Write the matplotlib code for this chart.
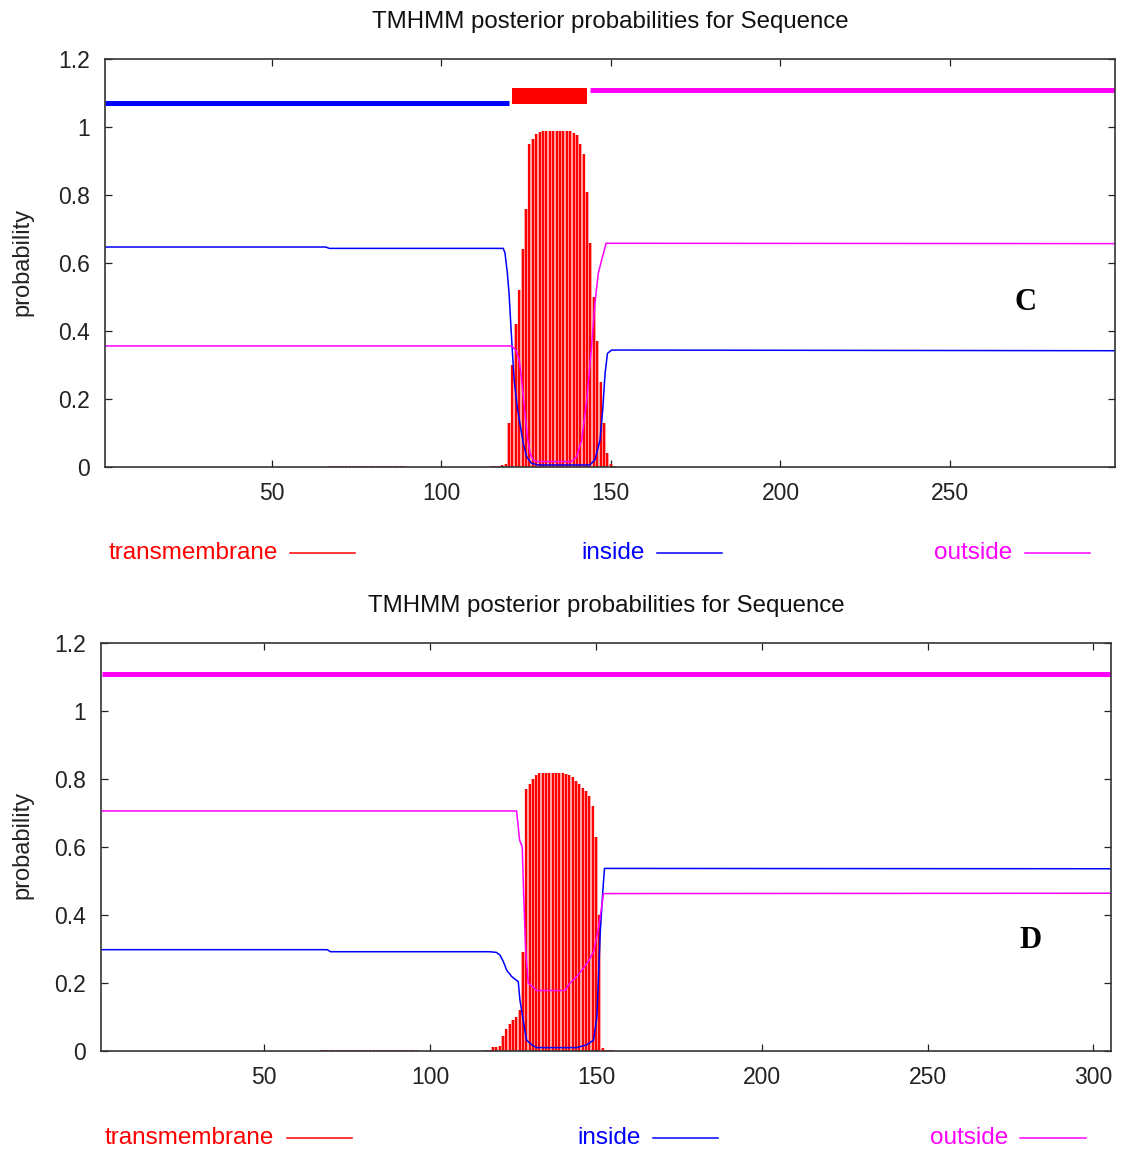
import matplotlib
matplotlib.use("Agg")
import matplotlib.pyplot as plt
from matplotlib.lines import Line2D

plt.rcParams['font.family'] = ['Liberation Sans', 'DejaVu Sans']

TITLE = "TMHMM posterior probabilities for Sequence"
y_ticks = [0, 0.2, 0.4, 0.6, 0.8, 1.0, 1.2]
y_ticklabels = ["0", "0.2", "0.4", "0.6", "0.8", "1", "1.2"]

# ---- panel C ----
c_xrange = (0.9, 298.6)
c_xticks = [50, 100, 150, 200, 250]
# topology bar: (start, end, level, kind)
c_topology = [(1, 120, 1.07, "inside"), (121, 143, 1.09, "tm"), (144, 298.6, 1.11, "outside")]

c_tm_low_res = list(range(67, 90))
c_tm_low = [0.004] * len(c_tm_low_res)
c_tm_res = list(range(115, 152))
c_tm = [0.003, 0.003, 0.004, 0.005, 0.01, 0.13, 0.30, 0.42, 0.52, 0.64,
        0.76, 0.95, 0.965, 0.978, 0.984, 0.988, 0.988, 0.988, 0.988, 0.988,
        0.988, 0.988, 0.988, 0.988, 0.983, 0.976, 0.95, 0.92, 0.81, 0.66,
        0.50, 0.37, 0.25, 0.13, 0.04, 0.01, 0.003]

c_in_x = [1, 66, 67, 118.3, 118.8, 119.5, 120, 120.5, 121, 121.5, 122.4, 123.2,
          124.2, 125.2, 126.6, 128.6, 143.8, 145.3, 146.8, 147.6, 148.3, 149,
          150.2, 298.6]
c_in_y = [0.647, 0.647, 0.643, 0.643, 0.629, 0.57, 0.51, 0.422, 0.335, 0.256,
          0.177, 0.128, 0.069, 0.030, 0.011, 0.006, 0.006, 0.021, 0.079, 0.168,
          0.275, 0.334, 0.344, 0.342]
c_out_x = [1, 120.7, 122, 123, 123.7, 124.7, 125.4, 126.2, 127.1, 128.1, 138.4,
           139.9, 141.4, 142.9, 144.3, 145.3, 146.3, 147.3, 148.6, 298.6]
c_out_y = [0.356, 0.356, 0.344, 0.315, 0.256, 0.158, 0.089, 0.040, 0.021, 0.016,
           0.016, 0.030, 0.079, 0.197, 0.354, 0.481, 0.57, 0.609, 0.658, 0.657]

# ---- panel D ----
d_xrange = (0.8, 305.3)
d_xticks = [50, 100, 150, 200, 250, 300]
d_topology = [(1, 305.3, 1.11, "outside")]

d_tm_low_res = list(range(67, 97))
d_tm_low = [0.004] * len(d_tm_low_res)
d_tm_res = list(range(117, 156))
d_tm = [0.003, 0.004, 0.012, 0.013, 0.014, 0.045, 0.065, 0.08, 0.09, 0.10,
        0.12, 0.29, 0.77, 0.785, 0.80, 0.812, 0.818, 0.818, 0.818, 0.818,
        0.818, 0.818, 0.818, 0.818, 0.815, 0.812, 0.805, 0.795, 0.785, 0.775,
        0.765, 0.75, 0.72, 0.63, 0.40, 0.008, 0.004, 0.004, 0.003]

d_in_x = [1, 69, 70, 118, 120, 121.1, 122.1, 123.1, 124.6, 126.6, 127.1, 128.1,
          129.1, 130.7, 132.2, 144.2, 147.2, 149.3, 150.3, 151.3, 152.1, 152.6,
          305.3]
d_in_y = [0.298, 0.298, 0.292, 0.292, 0.29, 0.282, 0.263, 0.238, 0.219, 0.204,
          0.15, 0.09, 0.032, 0.018, 0.010, 0.010, 0.018, 0.032, 0.10, 0.346,
          0.473, 0.537, 0.536]
d_out_x = [1, 126.1, 127, 127.8, 128.2, 128.8, 129.6, 132.2, 140.7, 142.2, 144.2,
           146.2, 147.7, 149.3, 150.3, 151.3, 152.3, 305.3]
d_out_y = [0.706, 0.706, 0.62, 0.60, 0.47, 0.30, 0.20, 0.178, 0.178, 0.20, 0.219,
           0.243, 0.263, 0.292, 0.336, 0.395, 0.463, 0.464]

COL = {"tm": "#ff0000", "inside": "#0000ff", "outside": "#ff00ff"}
TOPO_LW = {"tm": 11.5, "inside": 3.6, "outside": 3.6}

W, H = 1121, 1151
fig = plt.figure(figsize=(W / 100, H / 100), dpi=100)


def fx(px):
    return px / W


def fy(py):
    return 1 - py / H


def panel(rect, xrange_, xticks, topo, tm_low_res, tm_low, tm_res, tm,
          in_x, in_y, out_x, out_y):
    ax = fig.add_axes(rect)
    # impulses: pale fill between the red strokes, like the gnuplot raster
    ax.bar(tm_res, tm, width=1.0, color="#ffb4b4", linewidth=0)
    ax.vlines(tm_low_res, 0, tm_low, color=COL["tm"], lw=1.6)
    ax.vlines(tm_res, 0, tm, color=COL["tm"], lw=1.6)
    ax.plot(in_x, in_y, color=COL["inside"], lw=1.1)
    ax.plot(out_x, out_y, color=COL["outside"], lw=1.1)
    for x0, x1, lev, kind in topo:
        ax.plot([x0, x1], [lev, lev], color=COL[kind], lw=TOPO_LW[kind],
                solid_capstyle="butt")
    ax.set_xlim(*xrange_)
    ax.set_ylim(0, 1.2)
    ax.set_xticks(xticks)
    ax.set_yticks(y_ticks)
    ax.set_yticklabels(y_ticklabels)
    ax.tick_params(direction="in", length=5, width=0.9, top=True, right=True,
                   labelsize=16.5, colors="#222222", pad=11)
    ax.tick_params(axis="x", pad=11)
    for s in ax.spines.values():
        s.set_linewidth(1.2)
        s.set_color("#333333")
    return ax


ax_c = panel([fx(105), fy(467), fx(1115) - fx(105), fy(59) - fy(467)],
             c_xrange, c_xticks, c_topology, c_tm_low_res, c_tm_low,
             c_tm_res, c_tm, c_in_x, c_in_y, c_out_x, c_out_y)
ax_d = panel([fx(101), fy(1051), fx(1111) - fx(101), fy(643) - fy(1051)],
             d_xrange, d_xticks, d_topology, d_tm_low_res, d_tm_low,
             d_tm_res, d_tm, d_in_x, d_in_y, d_out_x, d_out_y)

# titles, y labels, panel letters
for cx, cy, ly, letter, lx, lyy in [(610, 22, 262, "C", 1025, 302),
                                     (606, 606, 845, "D", 1031, 941)]:
    fig.text(fx(cx), fy(cy), TITLE, ha="center", va="center", fontsize=17.3,
             color="#111111")
    fig.text(fx(22), fy(ly), "probability", rotation=90, ha="center",
             va="center", fontsize=17, color="#222222")
    fig.text(fx(lx), fy(lyy), letter, ha="center", va="center", fontsize=22,
             fontweight="bold", family="Liberation Serif")

# key rows
legend_rows = [
    (553, [("transmembrane", 278, 290, 355, "tm"),
           ("inside", 645, 657, 722, "inside"),
           ("outside", 1012, 1025, 1090, "outside")]),
    (1138, [("transmembrane", 274, 287, 352, "tm"),
            ("inside", 641, 653, 718, "inside"),
            ("outside", 1008, 1020, 1086, "outside")]),
]
for ypx, items in legend_rows:
    for label, txt_right, l0, l1, kind in items:
        fig.text(fx(txt_right), fy(ypx), label, ha="right", va="center",
                 fontsize=17.5, color=COL[kind])
        fig.add_artist(Line2D([fx(l0), fx(l1)], [fy(ypx), fy(ypx)],
                              transform=fig.transFigure, color=COL[kind], lw=1.1))

fig.savefig("out.png", dpi=100)
